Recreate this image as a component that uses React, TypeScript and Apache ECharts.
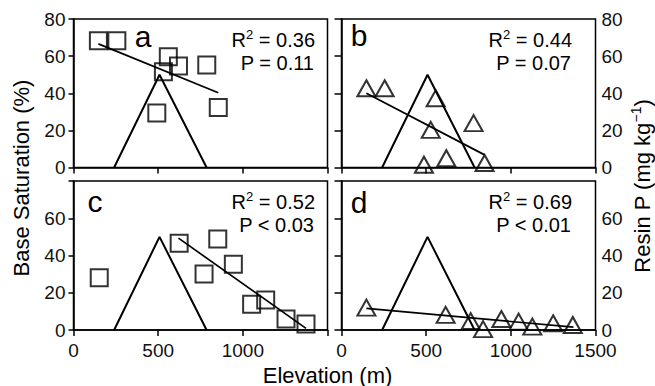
import React, { useEffect, useRef } from "react";
import * as echarts from "echarts";

// Panel a: base saturation (squares)
const aElev = [147, 256, 560, 620, 531, 787, 492, 855];
const aVal = [68.3, 68.3, 59.7, 54.7, 51.6, 55.2, 29.3, 32.3];
const aFit = [[147, 66.6], [855, 40.3]];
// Panel b: resin P (triangles)
const bElev = [147, 255, 556, 527, 780, 619, 487, 845];
const bVal = [42.7, 42.7, 37.3, 20.3, 23.9, 5.0, 1.5, 2.4];
const bFit = [[147, 40.0], [845, 6.8]];
// Panel c: base saturation (squares)
const cElev = [152, 624, 852, 771, 944, 1052, 1135, 1255, 1373];
const cVal = [28.1, 46.6, 48.8, 30.1, 35.3, 13.8, 16.1, 5.9, 3.2];
const cFit = [[620, 49.3], [1373, 0.9]];
// Panel d: resin P (triangles)
const dElev = [147, 615, 763, 836, 944, 1046, 1127, 1250, 1366];
const dVal = [12.0, 8.1, 4.8, 0.5, 5.9, 4.5, 1.8, 3.6, 2.7];
const dFit = [[147, 11.6], [1370, 1.5]];
// Big triangle outline (same in each panel)
const peakShape = [[240, 0], [508, 50], [786, 0]];

const panelLetters = ["a", "b", "c", "d"];
const r2Texts = ["0.36", "0.44", "0.52", "0.69"];
const pTexts = ["P = 0.11", "P = 0.07", "P < 0.03", "P < 0.01"];

const xMin = 0, xMax = 1500, xStep = 500;
const yMin = 0, yMax = 80, yStep = 20;

const FONT = "'Liberation Sans', Arial, Helvetica, sans-serif";
const TICK_FS = 19;
const TITLE_FS = 22;
const STAT_FS = 20;

export default function App() {
  const ref = useRef<HTMLDivElement>(null);
  useEffect(() => {
    if (!ref.current) return;
    const chart = echarts.init(ref.current, undefined, { renderer: "svg" });

    const grids = [
      { left: 73.5, top: 19, width: 254, height: 148.5 },
      { left: 341.5, top: 19, width: 254, height: 148.5 },
      { left: 73.5, top: 181, width: 254, height: 149 },
      { left: 341.5, top: 181, width: 254, height: 149 },
    ].map((g) => ({ ...g, show: true, borderColor: "#000", borderWidth: 1.5, backgroundColor: "transparent" }));

    const lineStyle = { color: "#000", width: 1.5 };
    const xAxes = [0, 1, 2, 3].map((i) => ({
      type: "value",
      gridIndex: i,
      min: xMin,
      max: xMax,
      interval: xStep,
      axisLine: { show: true, lineStyle },
      axisTick: { show: true, inside: false, length: 6, lineStyle },
      splitLine: { show: false },
      axisLabel: {
        show: i >= 2,
        margin: 11,
        color: "#111",
        fontSize: TICK_FS,
        fontFamily: FONT,
        formatter: (v: number) => (i === 2 && v === 1500 ? "" : String(v)),
      },
    }));
    const yAxes = [0, 1, 2, 3].map((i) => {
      const right = i % 2 === 1;
      return {
        type: "value",
        gridIndex: i,
        position: right ? "right" : "left",
        min: yMin,
        max: yMax,
        interval: yStep,
        axisLine: { show: true, lineStyle },
        axisTick: { show: true, inside: right, length: right ? 7 : 5, lineStyle },
        splitLine: { show: false },
        axisLabel: {
          show: true,
          margin: right ? 6 : 8,
          color: "#111",
          fontSize: TICK_FS,
          fontFamily: FONT,
          formatter: (v: number) => (i >= 2 && v === 80 ? "" : String(v)),
        },
      };
    });

    const pts = (xs: number[], ys: number[]) => xs.map((x, k) => [x, ys[k]]);
    const panels = [
      { xs: aElev, ys: aVal, fit: aFit, sym: "rect", size: [17, 17] },
      { xs: bElev, ys: bVal, fit: bFit, sym: "triangle", size: [18, 16] },
      { xs: cElev, ys: cVal, fit: cFit, sym: "rect", size: [17, 17] },
      { xs: dElev, ys: dVal, fit: dFit, sym: "triangle", size: [18, 16] },
    ];
    const series: any[] = [];
    panels.forEach((p, i) => {
      series.push({
        type: "line",
        xAxisIndex: i,
        yAxisIndex: i,
        data: peakShape,
        showSymbol: false,
        lineStyle: { color: "#000", width: 2 },
        z: 2,
      });
      series.push({
        type: "line",
        xAxisIndex: i,
        yAxisIndex: i,
        data: p.fit,
        showSymbol: false,
        lineStyle: { color: "#000", width: 1.7 },
        z: 3,
      });
      series.push({
        type: "scatter",
        xAxisIndex: i,
        yAxisIndex: i,
        data: pts(p.xs, p.ys),
        symbol: p.sym,
        symbolSize: p.size,
        itemStyle: { color: "transparent", borderColor: "#000", borderWidth: 2 },
        z: 4,
      });
    });

    const letterPos = [[143, 36.5], [359, 35], [95, 201], [359, 202]];
    const statRight = [315, 572, 315, 572];
    const statTop = [40, 40, 202, 202];
    const graphic: any[] = [];
    panelLetters.forEach((l, i) => {
      graphic.push({
        type: "text",
        x: letterPos[i][0],
        y: letterPos[i][1],
        style: { text: l, fill: "#000", font: `30px ${FONT}`, align: "center", verticalAlign: "middle" },
      });
      graphic.push({
        type: "text",
        x: statRight[i],
        y: statTop[i],
        style: {
          text: `{t|R}{s|2}{t| = ${r2Texts[i]}}`,
          align: "right",
          verticalAlign: "middle",
          rich: {
            t: { fontSize: STAT_FS, fontFamily: FONT, fill: "#000", color: "#000", lineHeight: 24 },
            s: { fontSize: 13, fontFamily: FONT, fill: "#000", color: "#000", verticalAlign: "top", lineHeight: 24 },
          },
        },
      });
      graphic.push({
        type: "text",
        x: statRight[i] - 1,
        y: statTop[i] + 23,
        style: { text: pTexts[i], fill: "#000", font: `${STAT_FS}px ${FONT}`, align: "right", verticalAlign: "middle" },
      });
    });
    graphic.push({
      type: "text",
      x: 21,
      y: 178,
      rotation: Math.PI / 2,
      style: { text: "Base Saturation (%)", fill: "#000", font: `${TITLE_FS}px ${FONT}`, align: "center", verticalAlign: "middle" },
    });
    graphic.push({
      type: "text",
      x: 642,
      y: 186,
      rotation: Math.PI / 2,
      style: {
        text: "{t|Resin P (mg kg}{s|−1}{t|)}",
        align: "center",
        verticalAlign: "middle",
        rich: {
          t: { fontSize: TITLE_FS, fontFamily: FONT, fill: "#000", color: "#000", lineHeight: 26 },
          s: { fontSize: 14, fontFamily: FONT, fill: "#000", color: "#000", verticalAlign: "top", lineHeight: 26 },
        },
      },
    });
    graphic.push({
      type: "text",
      x: 327.5,
      y: 375,
      style: { text: "Elevation (m)", fill: "#000", font: `${TITLE_FS}px ${FONT}`, align: "center", verticalAlign: "middle" },
    });

    chart.setOption({
      animation: false,
      backgroundColor: "#fff",
      grid: grids,
      xAxis: xAxes,
      yAxis: yAxes,
      series,
      graphic,
    });
    return () => chart.dispose();
  }, []);
  return (
    <div
      ref={ref}
      style={{ position: "fixed", left: 0, top: 0, width: 655, height: 386, background: "#fff" }}
    />
  );
}
